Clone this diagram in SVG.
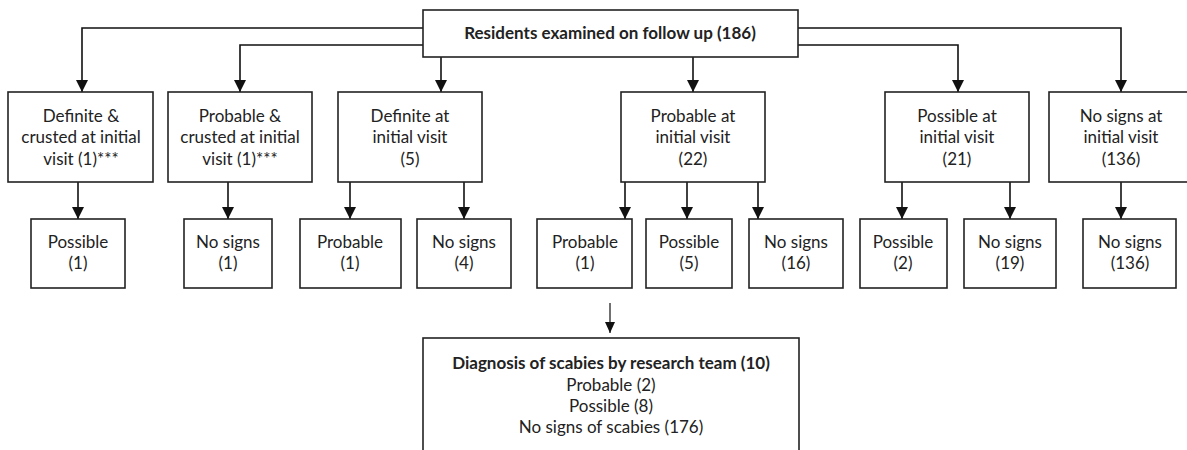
<svg xmlns="http://www.w3.org/2000/svg" width="1187" height="450" viewBox="0 0 1187 450">
<style>
.box{fill:#fff;stroke:#222;stroke-width:1.6}
.t{font-family:Lato,"Liberation Sans",sans-serif;font-size:17px;fill:#222;text-anchor:middle}
.b{font-weight:bold}
.c{fill:none;stroke:#111;stroke-width:1.6}
.thin{fill:none;stroke:#111;stroke-width:1.2}
</style>
<defs>
<marker id="ah" markerUnits="userSpaceOnUse" markerWidth="12" markerHeight="12" refX="12" refY="6" orient="auto">
<path d="M0,0 L12,6 L0,12 Z" fill="#111"/>
</marker>
<marker id="ahs" markerUnits="userSpaceOnUse" markerWidth="11" markerHeight="10" refX="11" refY="5" orient="auto">
<path d="M0,0 L11,5 L0,10 Z" fill="#111"/>
</marker>
</defs>
<rect width="1187" height="450" fill="#fff"/>
<g id="connectors">
<path class="c" d="M423,28 H82 V92" marker-end="url(#ah)"/>
<path class="c" d="M423,45 H240 V92" marker-end="url(#ah)"/>
<path class="c" d="M441,57 V92" marker-end="url(#ah)"/>
<path class="c" d="M693,57 V92" marker-end="url(#ah)"/>
<path class="c" d="M798,45 H958 V92" marker-end="url(#ah)"/>
<path class="c" d="M798,28 H1121 V92" marker-end="url(#ah)"/>
<path class="c" d="M78,182 V219" marker-end="url(#ah)"/>
<path class="c" d="M228,182 V219" marker-end="url(#ah)"/>
<path class="c" d="M350,182 V219" marker-end="url(#ah)"/>
<path class="c" d="M464,182 V219" marker-end="url(#ah)"/>
<path class="c" d="M625,182 V219" marker-end="url(#ah)"/>
<path class="c" d="M687,182 V219" marker-end="url(#ah)"/>
<path class="c" d="M758,182 V219" marker-end="url(#ah)"/>
<path class="c" d="M902,182 V219" marker-end="url(#ah)"/>
<path class="c" d="M1010,182 V219" marker-end="url(#ah)"/>
<path class="c" d="M1121,182 V219" marker-end="url(#ah)"/>
<path class="thin" d="M610,303 V333" marker-end="url(#ahs)"/>
</g>
<g id="top">
<rect class="box" x="423" y="10" width="375" height="47"/>
<text class="t b" x="610" y="39">Residents examined on follow up (186)</text>
</g>
<g id="n1">
<rect class="box" x="8" y="92" width="145" height="90"/>
<text class="t" x="81" y="122">Definite &amp;</text>
<text class="t" x="81" y="143">crusted at initial</text>
<text class="t" x="81" y="165">visit (1)***</text>
</g>
<g id="n2">
<rect class="box" x="168" y="92" width="144" height="90"/>
<text class="t" x="240" y="122">Probable &amp;</text>
<text class="t" x="240" y="143">crusted at initial</text>
<text class="t" x="240" y="165">visit (1)***</text>
</g>
<g id="n3">
<rect class="box" x="338" y="92" width="144" height="90"/>
<text class="t" x="410" y="122">Definite at</text>
<text class="t" x="410" y="143">initial visit</text>
<text class="t" x="410" y="165">(5)</text>
</g>
<g id="n4">
<rect class="box" x="621" y="92" width="144" height="90"/>
<text class="t" x="693" y="122">Probable at</text>
<text class="t" x="693" y="143">initial visit</text>
<text class="t" x="693" y="165">(22)</text>
</g>
<g id="n5">
<rect class="box" x="885" y="92" width="144" height="90"/>
<text class="t" x="957" y="122">Possible at</text>
<text class="t" x="957" y="143">initial visit</text>
<text class="t" x="957" y="165">(21)</text>
</g>
<g id="n6">
<rect class="box" x="1049" y="92" width="144" height="90"/>
<text class="t" x="1121" y="122">No signs at</text>
<text class="t" x="1121" y="143">initial visit</text>
<text class="t" x="1121" y="165">(136)</text>
</g>
<g id="n1a">
<rect class="box" x="31" y="219" width="94" height="69"/>
<text class="t" x="78" y="248">Possible</text>
<text class="t" x="78" y="269">(1)</text>
</g>
<g id="n2a">
<rect class="box" x="184" y="219" width="88" height="69"/>
<text class="t" x="228" y="248">No signs</text>
<text class="t" x="228" y="269">(1)</text>
</g>
<g id="n3a">
<rect class="box" x="300" y="219" width="101" height="69"/>
<text class="t" x="350" y="248">Probable</text>
<text class="t" x="350" y="269">(1)</text>
</g>
<g id="n3b">
<rect class="box" x="417" y="219" width="94" height="69"/>
<text class="t" x="464" y="248">No signs</text>
<text class="t" x="464" y="269">(4)</text>
</g>
<g id="n4a">
<rect class="box" x="537" y="219" width="95" height="69"/>
<text class="t" x="585" y="248">Probable</text>
<text class="t" x="585" y="269">(1)</text>
</g>
<g id="n4b">
<rect class="box" x="646" y="219" width="86" height="69"/>
<text class="t" x="689" y="248">Possible</text>
<text class="t" x="689" y="269">(5)</text>
</g>
<g id="n4c">
<rect class="box" x="749" y="219" width="94" height="69"/>
<text class="t" x="796" y="248">No signs</text>
<text class="t" x="796" y="269">(16)</text>
</g>
<g id="n5a">
<rect class="box" x="860" y="219" width="87" height="69"/>
<text class="t" x="903" y="248">Possible</text>
<text class="t" x="903" y="269">(2)</text>
</g>
<g id="n5b">
<rect class="box" x="964" y="219" width="92" height="69"/>
<text class="t" x="1010" y="248">No signs</text>
<text class="t" x="1010" y="269">(19)</text>
</g>
<g id="n6a">
<rect class="box" x="1083" y="219" width="93" height="69"/>
<text class="t" x="1130" y="248">No signs</text>
<text class="t" x="1130" y="269">(136)</text>
</g>
<g id="diag">
<rect class="box" x="423" y="338" width="376" height="130"/>
<text class="t b" x="611" y="369">Diagnosis of scabies by research team (10)</text>
<text class="t" x="611" y="391">Probable (2)</text>
<text class="t" x="611" y="412">Possible (8)</text>
<text class="t" x="611" y="433">No signs of scabies (176)</text>
</g>
</svg>
